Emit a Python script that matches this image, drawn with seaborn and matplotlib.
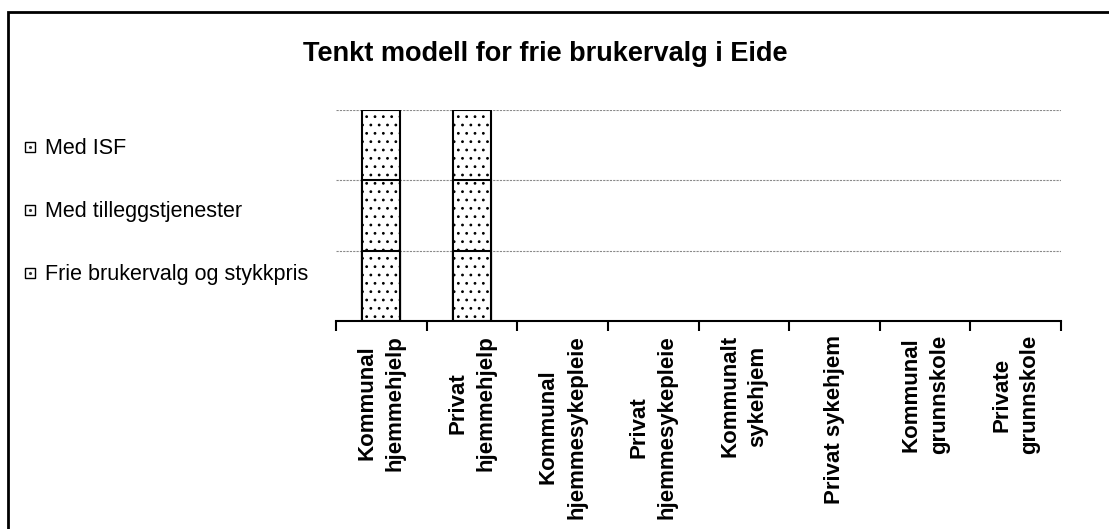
import numpy as np
import pandas as pd
import matplotlib
matplotlib.use('Agg')
import matplotlib.pyplot as plt
import seaborn as sns
from matplotlib.patches import Rectangle
from matplotlib.lines import Line2D
from matplotlib.legend_handler import HandlerTuple

# data
categories = ['Kommunal\nhjemmehjelp', 'Privat\nhjemmehjelp', 'Kommunal\nhjemmesykepleie',
              'Privat\nhjemmesykepleie', 'Kommunalt\nsykehjem', 'Privat sykehjem',
              'Kommunal\ngrunnskole', 'Private\ngrunnskole']
series = ['Frie brukervalg og stykkpris', 'Med tilleggstjenester', 'Med ISF']
frie = [1, 1, 0, 0, 0, 0, 0, 0]
tillegg = [1, 1, 0, 0, 0, 0, 0, 0]
isf = [1, 1, 0, 0, 0, 0, 0, 0]

sns.set_style('white')
plt.rcParams['font.family'] = ['Liberation Sans', 'DejaVu Sans']
plt.rcParams['text.color'] = 'black'
plt.rcParams['xtick.color'] = 'black'
plt.rcParams['hatch.linewidth'] = 0.8
plt.rcParams['hatch.color'] = '#444444'

df = pd.DataFrame({'kat': categories, 'frie': frie, 'tillegg': tillegg, 'isf': isf})
df['c1'] = df['frie']
df['c2'] = df['c1'] + df['tillegg']
df['c3'] = df['c2'] + df['isf']

W, H = 1109, 529
fig = plt.figure(figsize=(W / 100, H / 100), dpi=100)
ax = fig.add_axes([336 / W, 1 - 321 / H, (1061 - 336) / W, (321 - 110) / H])

# stablede søyler: tegn kumulativt ovenfra og ned
for col in ['c3', 'c2', 'c1']:
    sub = df.copy()
    sub.loc[sub[col] == 0, col] = np.nan
    sns.barplot(data=sub, x='kat', y=col, order=categories, color='white',
                edgecolor='black', linewidth=1.5, hatch='..', width=0.42,
                saturation=1, ax=ax, errorbar=None)

ax.set_ylim(0, 3)
ax.set_xlim(-0.5, len(categories) - 0.5)
for yv in [1, 2, 3]:
    ax.axhline(yv, color='#8a8a8a', lw=0.8, ls=(0, (2, 1)), zorder=0)

for s in ['left', 'right', 'top']:
    ax.spines[s].set_visible(False)
ax.spines['bottom'].set_linewidth(1.5)
ax.spines['bottom'].set_color('black')
ax.set_yticks([])
ax.set_xlabel('')
ax.set_ylabel('')

ax.set_xticks(np.arange(len(categories)))
ax.set_xticklabels(categories, rotation=90, fontsize=16, fontweight='bold',
                   ha='center', va='top', multialignment='center', linespacing=1.45)
ax.tick_params(axis='x', which='major', length=0, pad=10, bottom=True)
ax.set_xticks(np.arange(len(categories) + 1) - 0.5, minor=True)
ax.tick_params(axis='x', which='minor', length=7, width=1.5, color='black',
               direction='out', bottom=True)

# tittel
fig.text(545 / W, 1 - 61 / H, 'Tenkt modell for frie brukervalg i Eide',
         fontsize=19.5, fontweight='bold', ha='center', va='baseline')

# legende
handles = [(Line2D([], [], marker='s', ms=7.5, mfc='white', mec='black', mew=1.0, ls=''),
            Line2D([], [], marker='.', ms=2.5, color='#333333', ls=''))
           for _ in series]
leg = fig.legend(handles[::-1], series[::-1], loc='upper left',
                 bbox_to_anchor=(4 / W, 1 - 119 / H), frameon=False,
                 fontsize=15.5, handlelength=0.6, handletextpad=0.4,
                 labelspacing=1.95, handler_map={tuple: HandlerTuple(ndivide=1, pad=0)})

# ramme rundt diagrammet
fig.patches.append(Rectangle((8 / W, -0.1), 1.2, 1 - 12 / H + 0.1,
                             transform=fig.transFigure, fill=False,
                             edgecolor='black', lw=2))

fig.savefig('out.png', dpi=100)
